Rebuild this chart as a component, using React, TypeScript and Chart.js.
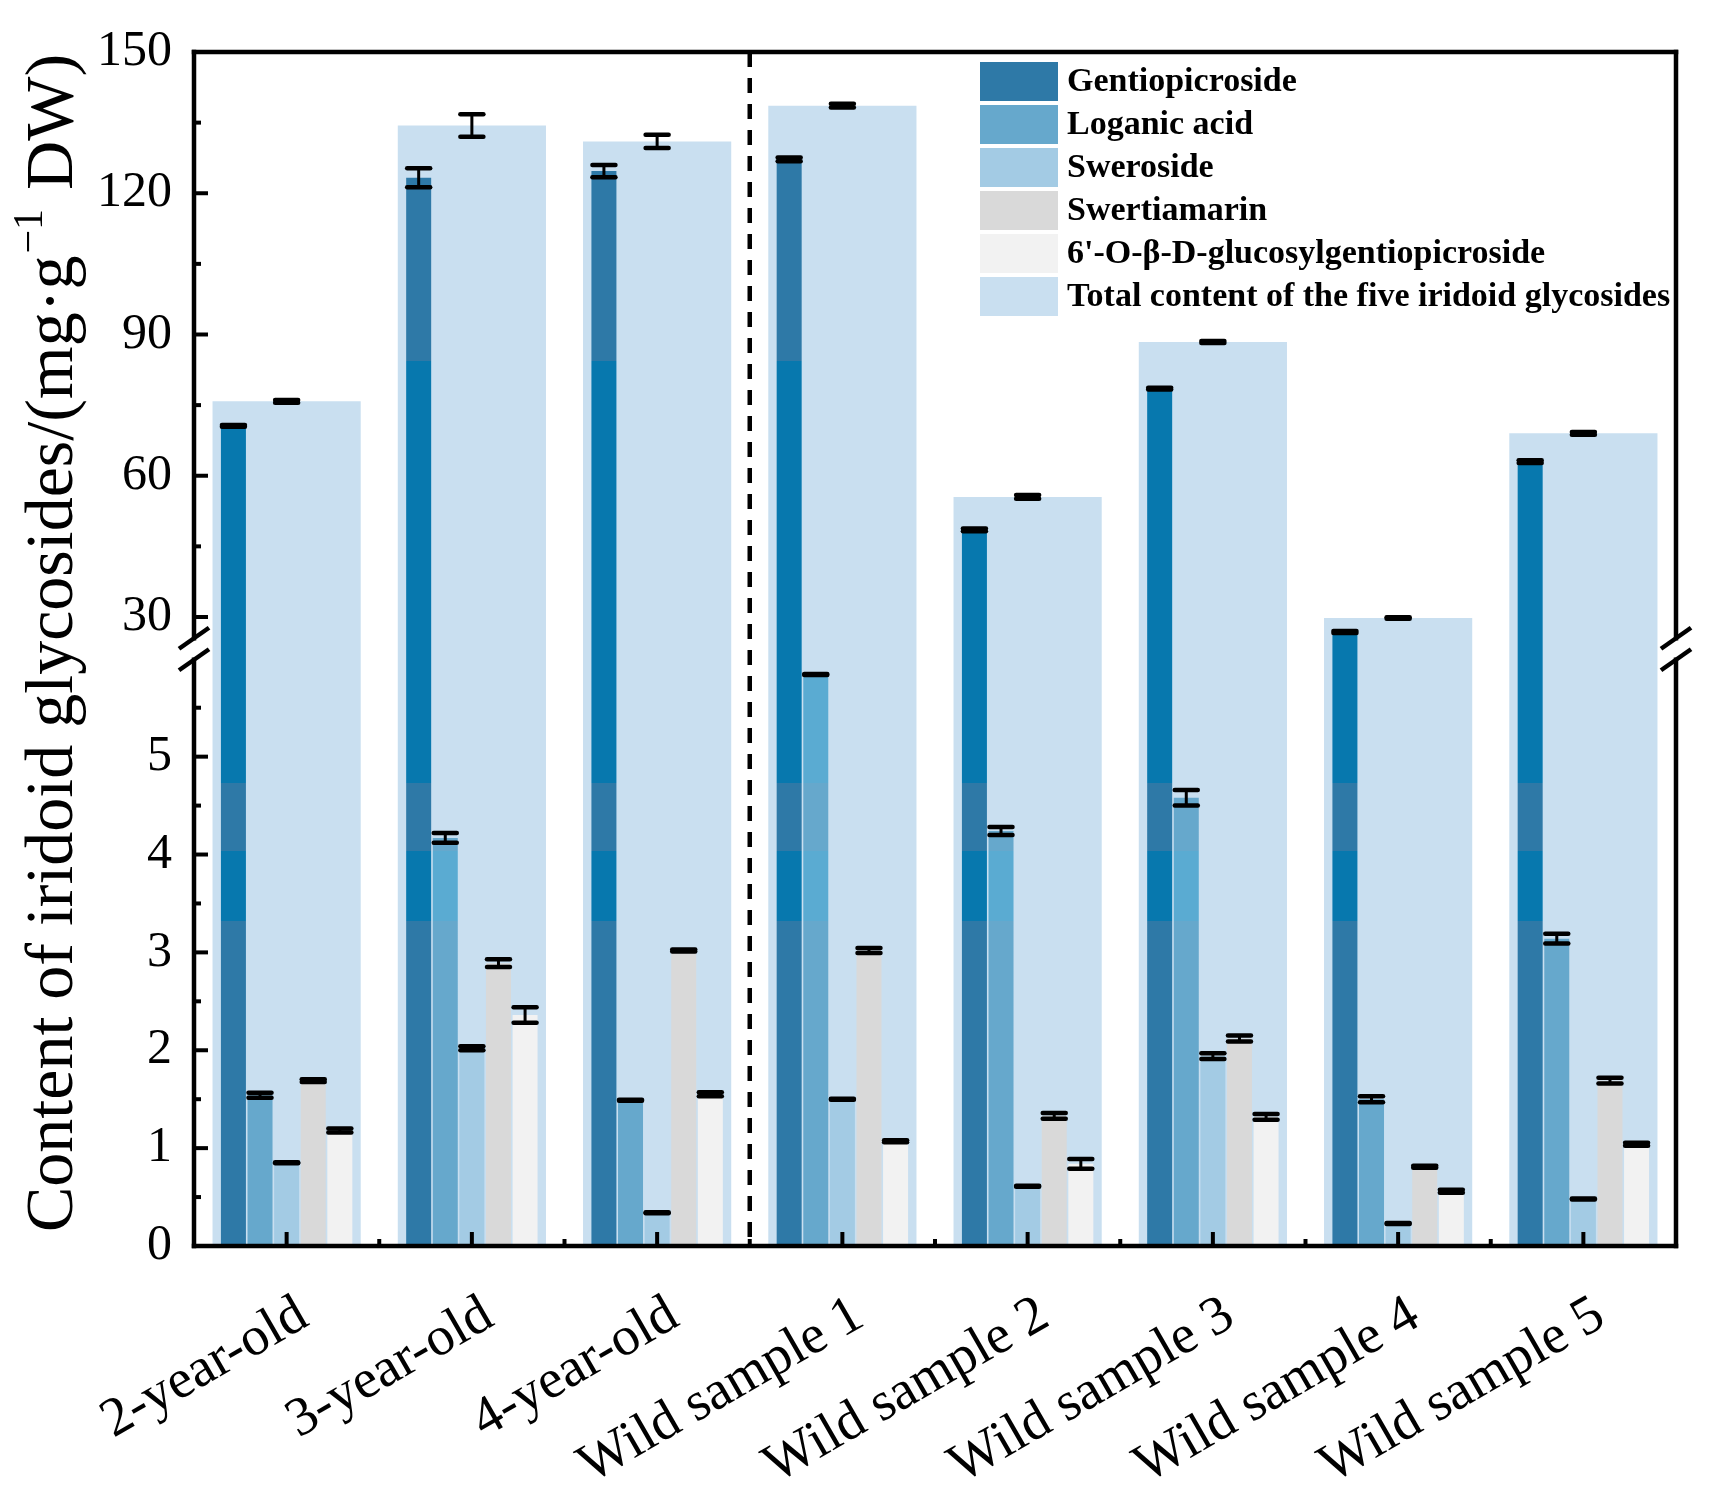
import { useEffect, useRef } from "react";
import { Chart, LinearScale, registerables } from "chart.js";

const CATEGORIES = [
  "2-year-old",
  "3-year-old",
  "4-year-old",
  "Wild sample 1",
  "Wild sample 2",
  "Wild sample 3",
  "Wild sample 4",
  "Wild sample 5",
];

const GENTIOPICROSIDE = [70.6, 123.3, 124.7, 127.2, 48.5, 78.5, 26.8, 63.0];
const GENTIOPICROSIDE_SD = [0.2, 2.0, 1.3, 0.4, 0.3, 0.2, 0.2, 0.3];
const LOGANIC_ACID = [1.54, 4.17, 1.49, 5.84, 4.24, 4.58, 1.5, 3.14];
const LOGANIC_ACID_SD = [0.025, 0.05, 0.005, 0.005, 0.04, 0.08, 0.03, 0.05];
const SWEROSIDE = [0.85, 2.02, 0.34, 1.5, 0.61, 1.94, 0.23, 0.48];
const SWEROSIDE_SD = [0.005, 0.02, 0.005, 0.005, 0.005, 0.03, 0.005, 0.005];
const SWERTIAMARIN = [1.69, 2.89, 3.02, 3.02, 1.33, 2.12, 0.81, 1.69];
const SWERTIAMARIN_SD = [0.015, 0.04, 0.01, 0.025, 0.03, 0.03, 0.01, 0.03];
const GLUCOSYL = [1.18, 2.36, 1.55, 1.07, 0.84, 1.32, 0.56, 1.04];
const GLUCOSYL_SD = [0.02, 0.08, 0.02, 0.01, 0.05, 0.03, 0.015, 0.015];
const TOTAL = [75.8, 134.4, 131.0, 138.6, 55.5, 88.4, 29.8, 69.0];
const TOTAL_SD = [0.3, 2.4, 1.4, 0.4, 0.4, 0.2, 0.15, 0.3];

const Y_TICKS = [0, 1, 2, 3, 4, 5, 30, 60, 90, 120, 150];
const Y_MINOR_TICKS = [0.5, 1.5, 2.5, 3.5, 4.5, 5.5, 45, 75, 105, 135];

const FONT = "'Liberation Serif', 'Times New Roman', serif";

// broken axis: lower part 0..BREAK_LOW, upper part BREAK_HIGH..AXIS_MAX
const BREAK_LOW = 6.1;
const BREAK_HIGH = 23.2;
const AXIS_MAX = 150;
const LOWER_SHARE = 0.5;

// the export of the original shows brighter bands on the tallest bars
const BRIGHT_BANDS = [
  [4.73, 84.3],
  [3.32, 4.04],
];

function valueToDecimal(v: number) {
  if (v <= BREAK_LOW) return (v / BREAK_LOW) * LOWER_SHARE;
  if (v >= BREAK_HIGH)
    return LOWER_SHARE + ((v - BREAK_HIGH) / (AXIS_MAX - BREAK_HIGH)) * (1 - LOWER_SHARE);
  return LOWER_SHARE;
}

function decimalToValue(d: number) {
  if (d <= LOWER_SHARE) return (d / LOWER_SHARE) * BREAK_LOW;
  return BREAK_HIGH + ((d - LOWER_SHARE) / (1 - LOWER_SHARE)) * (AXIS_MAX - BREAK_HIGH);
}

class BrokenLinearScale extends LinearScale {
  static id = "brokenLinear";
  static defaults = {};

  buildTicks() {
    this.start = this.min;
    this.end = this.max;
    return Y_TICKS.map((value) => ({ value }));
  }

  getPixelForValue(value: number) {
    if (value === null || value === undefined || isNaN(value)) return NaN;
    return this.getPixelForDecimal(valueToDecimal(value));
  }

  getValueForPixel(pixel: number) {
    return decimalToValue(this.getDecimalForPixel(pixel));
  }
}

Chart.register(...registerables, BrokenLinearScale);

function bandFill(base: string, bright: string) {
  return (c: any) => {
    const chart = c.chart;
    const area = chart.chartArea;
    const y = chart.scales.y;
    if (!area || !y) return base;
    const span = area.bottom - area.top;
    const g = chart.ctx.createLinearGradient(0, area.top, 0, area.bottom);
    g.addColorStop(0, base);
    const bands = BRIGHT_BANDS.map(([lo, hi]) => [
      (y.getPixelForValue(hi) - area.top) / span,
      (y.getPixelForValue(lo) - area.top) / span,
    ]).sort((p, q) => p[0] - q[0]);
    for (const [t, b] of bands) {
      g.addColorStop(Math.max(0, Math.min(1, t)), base);
      g.addColorStop(Math.max(0, Math.min(1, t)), bright);
      g.addColorStop(Math.max(0, Math.min(1, b)), bright);
      g.addColorStop(Math.max(0, Math.min(1, b)), base);
    }
    g.addColorStop(1, base);
    return g;
  };
}

const decorations = {
  id: "decorations",
  afterDatasetsDraw(chart: any) {
    const { ctx } = chart;
    const y = chart.scales.y;
    ctx.save();
    ctx.strokeStyle = "#000";
    ctx.lineCap = "round";
    chart.data.datasets.forEach((ds: any, di: number) => {
      const sd: number[] = ds.sd;
      if (!sd) return;
      chart.getDatasetMeta(di).data.forEach((bar: any, i: number) => {
        const v = ds.data[i];
        const top = y.getPixelForValue(v + sd[i]);
        const bot = y.getPixelForValue(v - sd[i]);
        const x = bar.x;
        ctx.lineWidth = 3;
        ctx.beginPath();
        ctx.moveTo(x, top);
        ctx.lineTo(x, bot);
        ctx.stroke();
        ctx.lineWidth = 4.5;
        for (const yy of [top, bot]) {
          ctx.beginPath();
          ctx.moveTo(x - 11.5, yy);
          ctx.lineTo(x + 11.5, yy);
          ctx.stroke();
        }
      });
    });
    ctx.restore();
  },
  afterDraw(chart: any) {
    const { ctx, chartArea: a } = chart;
    const x = chart.scales.x;
    const y = chart.scales.y;
    const line = (x1: number, y1: number, x2: number, y2: number) => {
      ctx.beginPath();
      ctx.moveTo(x1, y1);
      ctx.lineTo(x2, y2);
      ctx.stroke();
    };
    ctx.save();
    ctx.strokeStyle = "#000";
    ctx.lineWidth = 4.5;

    // dashed separator between cultivated and wild samples
    const sepX = x.getPixelForValue(2.5);
    ctx.lineCap = "butt";
    ctx.setLineDash([15, 11]);
    line(sepX, a.top, sepX, a.bottom);
    ctx.setLineDash([]);

    // frame with the axis break
    const breakY = y.getPixelForDecimal(LOWER_SHARE);
    const gap = 10.75;
    ctx.lineCap = "square";
    line(a.left, a.top, a.right, a.top);
    line(a.left, a.bottom, a.right, a.bottom);
    for (const ax of [a.left, a.right]) {
      ctx.lineCap = "square";
      line(ax, a.top, ax, breakY - gap);
      line(ax, breakY + gap, ax, a.bottom);
      ctx.lineCap = "butt";
      for (const cy of [breakY - gap, breakY + gap]) {
        line(ax - 15, cy + 10.5, ax + 15, cy - 10.5);
      }
    }

    // inward ticks
    ctx.lineCap = "butt";
    ctx.lineWidth = 4;
    for (const v of Y_TICKS) {
      const py = y.getPixelForValue(v);
      line(a.left, py, a.left + 14, py);
    }
    for (const v of Y_MINOR_TICKS) {
      const py = y.getPixelForValue(v);
      line(a.left, py, a.left + 7, py);
    }
    CATEGORIES.forEach((_, i) => {
      const px = x.getPixelForValue(i);
      line(px, a.bottom, px, a.bottom - 14);
      if (i < CATEGORIES.length - 1) {
        const mx = x.getPixelForValue(i + 0.5);
        line(mx, a.bottom, mx, a.bottom - 7);
      }
    });

    // legend inside the plot, top right
    const legX = a.right - 696;
    ctx.font = `bold 34px ${FONT}`;
    ctx.textBaseline = "middle";
    ctx.textAlign = "left";
    chart.data.datasets.forEach((ds: any, i: number) => {
      const top = a.top + 10 + i * 43;
      ctx.fillStyle = ds.legendColor;
      ctx.fillRect(legX, top, 78, 39);
      ctx.fillStyle = "#000";
      ctx.fillText(ds.label, legX + 87, top + 20);
    });

    // y axis title with superscript
    const main1 = "Content of iridoid glycosides/(mg\u00b7g";
    const sup = "\u22121";
    const main2 = " DW)";
    const mainFont = `68px ${FONT}`;
    const supFont = `42px ${FONT}`;
    ctx.font = mainFont;
    const w1 = ctx.measureText(main1).width;
    const w3 = ctx.measureText(main2).width;
    ctx.font = supFont;
    const w2 = ctx.measureText(sup).width + 4;
    const total = w1 + w2 + w3;
    ctx.translate(72, (a.top + a.bottom) / 2 - 6);
    ctx.rotate(-Math.PI / 2);
    ctx.textBaseline = "alphabetic";
    ctx.fillStyle = "#000";
    ctx.font = mainFont;
    ctx.fillText(main1, -total / 2, 0);
    ctx.font = supFont;
    ctx.fillText(sup, -total / 2 + w1 + 2, -30);
    ctx.font = mainFont;
    ctx.fillText(main2, -total / 2 + w1 + w2, 0);
    ctx.restore();
  },
};

const GENTIO_COLOR = "#2e79a7";
const LOGANIC_COLOR = "#66a8cc";
const SWEROSIDE_COLOR = "#a3cbe4";
const SWERTIAMARIN_COLOR = "#d9d9d9";
const GLUCOSYL_COLOR = "#f2f2f2";
const TOTAL_COLOR = "#c9dff0";

export default function App() {
  const canvasRef = useRef<HTMLCanvasElement>(null);
  const chartRef = useRef<Chart | null>(null);

  useEffect(() => {
    document.body.style.margin = "0";
    if (!canvasRef.current) return;
    const ctx = canvasRef.current.getContext("2d");
    if (!ctx) return;

    const groupBar = { categoryPercentage: 0.718, barPercentage: 0.94, order: 0 };

    chartRef.current?.destroy();
    chartRef.current = new Chart(ctx, {
      type: "bar",
      data: {
        labels: CATEGORIES,
        datasets: [
          {
            label: "Gentiopicroside",
            data: GENTIOPICROSIDE,
            sd: GENTIOPICROSIDE_SD,
            legendColor: GENTIO_COLOR,
            backgroundColor: bandFill(GENTIO_COLOR, "#0778ae"),
            ...groupBar,
          },
          {
            label: "Loganic acid",
            data: LOGANIC_ACID,
            sd: LOGANIC_ACID_SD,
            legendColor: LOGANIC_COLOR,
            backgroundColor: bandFill(LOGANIC_COLOR, "#5aabd2"),
            ...groupBar,
          },
          {
            label: "Sweroside",
            data: SWEROSIDE,
            sd: SWEROSIDE_SD,
            legendColor: SWEROSIDE_COLOR,
            backgroundColor: SWEROSIDE_COLOR,
            ...groupBar,
          },
          {
            label: "Swertiamarin",
            data: SWERTIAMARIN,
            sd: SWERTIAMARIN_SD,
            legendColor: SWERTIAMARIN_COLOR,
            backgroundColor: SWERTIAMARIN_COLOR,
            ...groupBar,
          },
          {
            label: "6'-O-\u03b2-D-glucosylgentiopicroside",
            data: GLUCOSYL,
            sd: GLUCOSYL_SD,
            legendColor: GLUCOSYL_COLOR,
            backgroundColor: GLUCOSYL_COLOR,
            ...groupBar,
          },
          {
            label: "Total content of the five iridoid glycosides",
            data: TOTAL,
            sd: TOTAL_SD,
            legendColor: TOTAL_COLOR,
            backgroundColor: TOTAL_COLOR,
            grouped: false,
            categoryPercentage: 0.8,
            barPercentage: 1,
            order: 1,
          },
        ] as any,
      },
      options: {
        animation: false,
        responsive: true,
        maintainAspectRatio: false,
        layout: { padding: { top: 50, right: 35, bottom: 0, left: 0 } },
        plugins: {
          legend: { display: false },
          tooltip: { enabled: false },
        },
        scales: {
          x: {
            type: "category",
            offset: true,
            grid: { display: false },
            border: { display: false },
            ticks: {
              autoSkip: false,
              minRotation: 30,
              maxRotation: 30,
              padding: 29,
              labelOffset: 17,
              color: "#000",
              font: { family: FONT, size: 55 },
            },
            afterFit: (scale: any) => {
              scale.height = 252;
            },
          },
          y: {
            type: "brokenLinear" as any,
            min: 0,
            max: AXIS_MAX,
            grid: { display: false, drawTicks: false },
            border: { display: false },
            ticks: {
              autoSkip: false,
              padding: 22,
              color: "#000",
              font: { family: FONT, size: 50 },
              callback: (v: any) => String(v),
            },
            afterFit: (scale: any) => {
              scale.width = 194;
            },
          },
        },
      },
      plugins: [decorations],
    });

    return () => chartRef.current?.destroy();
  }, []);

  return (
    <div style={{ position: "relative", width: 1711, height: 1498 }}>
      <canvas ref={canvasRef} />
    </div>
  );
}
